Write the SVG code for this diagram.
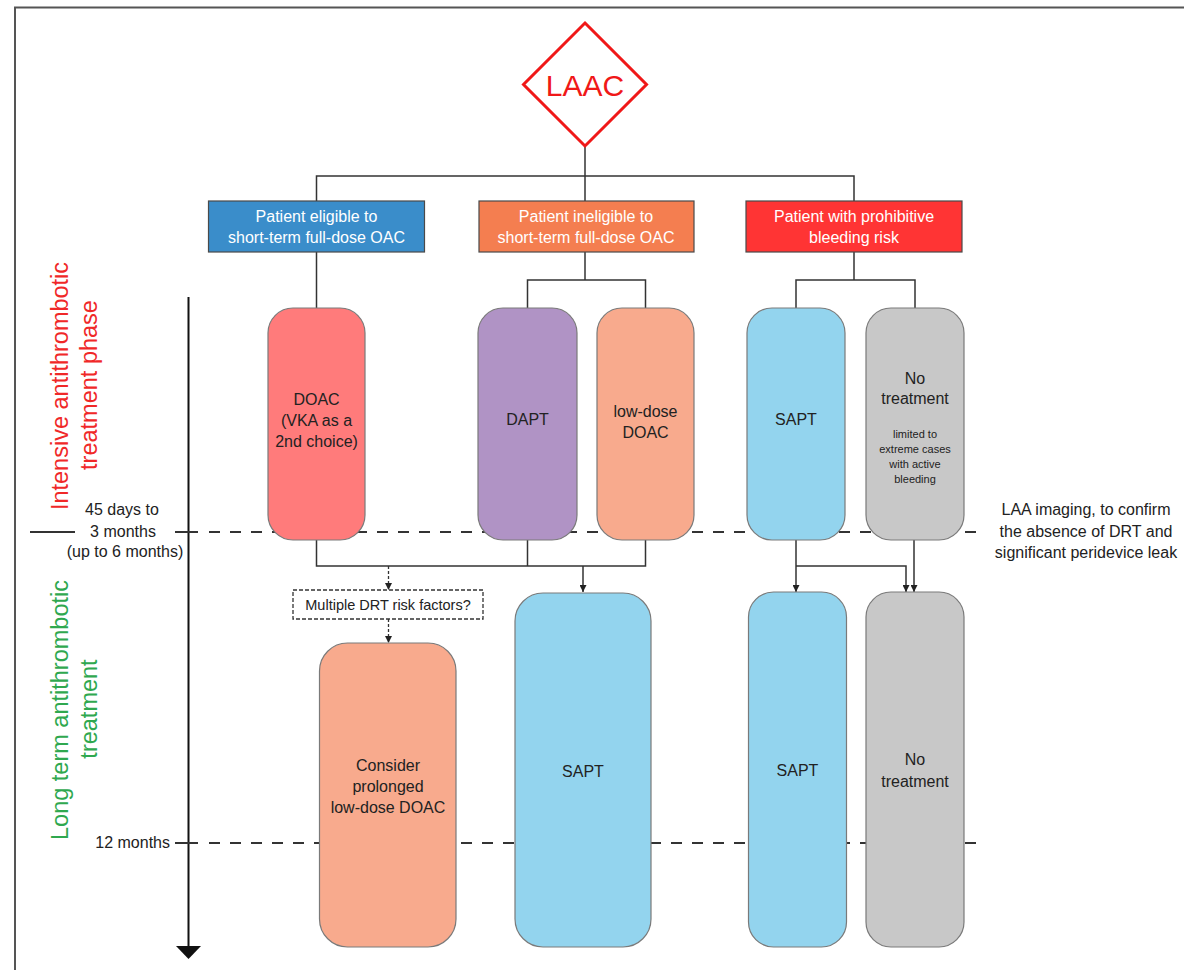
<svg xmlns="http://www.w3.org/2000/svg" width="1184" height="970" viewBox="0 0 1184 970">
<defs>
<style>
.t{font-family:"Liberation Sans",Arial,sans-serif;fill:#222;text-anchor:middle}
.w{font-family:"Liberation Sans",Arial,sans-serif;fill:#fff;text-anchor:middle;font-size:16px}
.p{font-size:16px}
.s{font-size:11px}
.ln{stroke:#333;stroke-width:1.5;fill:none}
.dot{stroke:#333;stroke-width:1.3;fill:none;stroke-dasharray:3 2}
.pill{stroke:#7a7a7a;stroke-width:1.2}
.box{stroke:#4a4a4a;stroke-width:1.2}
.dash{stroke:#333;stroke-width:2;stroke-dasharray:11 10;fill:none}
.solid{stroke:#333;stroke-width:2;fill:none}
.side{font-family:"Liberation Sans",Arial,sans-serif;font-size:23.5px;text-anchor:middle}
</style>
<marker id="arr" viewBox="0 0 10 10" refX="10" refY="5" markerWidth="7" markerHeight="7" markerUnits="userSpaceOnUse" orient="auto">
<path d="M0,0 L10,5 L0,10 z" fill="#222"/>
</marker>
</defs>
<rect width="1184" height="970" fill="#fff"/>
<path d="M15,970 L15,7.5 L1184,7.5" fill="none" stroke="#555" stroke-width="2"/>

<g id="timeline">
<line x1="188.5" y1="297" x2="188.5" y2="948" stroke="#111" stroke-width="2"/>
<path d="M176,946 L201,946 L188.5,959 z" fill="#111"/>
<line class="solid" x1="30" y1="532" x2="75" y2="532"/>
<line class="solid" x1="175" y1="532" x2="198" y2="532"/>
<line class="dash" x1="209" y1="532" x2="982" y2="532"/>
<line class="solid" x1="175" y1="843" x2="198" y2="843"/>
<line class="dash" x1="209" y1="843" x2="982" y2="843"/>
<text class="t p" x="122" y="515">45 days to</text>
<text class="t p" x="123" y="537">3 months</text>
<text class="t p" x="125" y="557">(up to 6 months)</text>
<text class="t p" x="170" y="848" style="text-anchor:end">12 months</text>
<text class="side" fill="#f02828" transform="translate(68,386) rotate(-90)">Intensive antithrombotic</text>
<text class="side" fill="#f02828" transform="translate(97,385) rotate(-90)">treatment phase</text>
<text class="side" fill="#2fa84f" transform="translate(68,710) rotate(-90)">Long term antithrombotic</text>
<text class="side" fill="#2fa84f" transform="translate(97,709) rotate(-90)">treatment</text>
<text class="t p" x="1086" y="515">LAA imaging, to confirm</text>
<text class="t p" x="1086" y="537">the absence of DRT and</text>
<text class="t p" x="1086" y="558">significant peridevice leak</text>
</g>

<g id="connectors">
<line class="ln" x1="585" y1="146" x2="585" y2="201"/>
<path class="ln" d="M316.5,201 V176 H854 V201"/>
<line class="ln" x1="316.5" y1="252" x2="316.5" y2="308"/>
<line class="ln" x1="585" y1="252" x2="585" y2="280"/>
<path class="ln" d="M527.5,308 V280 H645.5 V308"/>
<line class="ln" x1="854" y1="252" x2="854" y2="280"/>
<path class="ln" d="M796,308 V280 H915 V308"/>
<path class="ln" d="M316.5,540 V566 H645.5 V540"/>
<line class="ln" x1="527.5" y1="540" x2="527.5" y2="566"/>
<line class="ln" x1="583" y1="566" x2="583" y2="592" marker-end="url(#arr)"/>
<line class="dot" x1="388.5" y1="566" x2="388.5" y2="590" marker-end="url(#arr)"/>
<line class="dot" x1="388.5" y1="619" x2="388.5" y2="643" marker-end="url(#arr)"/>
<line class="ln" x1="796" y1="540" x2="796" y2="592" marker-end="url(#arr)"/>
<path class="ln" d="M796,566 H906 V592" marker-end="url(#arr)"/>
<line class="ln" x1="914" y1="540" x2="914" y2="592" marker-end="url(#arr)"/>
</g>

<g id="laac">
<path d="M585,23 L646.5,84.5 L585,146 L523.5,84.5 z" fill="#fff" stroke="#f01818" stroke-width="3"/>
<text x="585" y="96" style="font-family:'Liberation Sans',Arial,sans-serif;font-size:30px;fill:#f01818;text-anchor:middle">LAAC</text>
</g>

<g id="eligible">
<rect class="box" x="208.5" y="201" width="216" height="51" fill="#3a8dca"/>
<text class="w" x="316.5" y="222">Patient eligible to</text>
<text class="w" x="316.5" y="243">short-term full-dose OAC</text>
</g>
<g id="ineligible">
<rect class="box" x="479" y="201" width="215" height="51" fill="#f47e50"/>
<text class="w" x="586" y="222">Patient ineligible to</text>
<text class="w" x="586" y="243">short-term full-dose OAC</text>
</g>
<g id="prohibitive">
<rect class="box" x="746" y="201" width="216" height="51" fill="#ff3434"/>
<text class="w" x="854" y="222">Patient with prohibitive</text>
<text class="w" x="854" y="243">bleeding risk</text>
</g>

<g id="doac">
<rect class="pill" x="268" y="308" width="97" height="232" rx="25" fill="#ff7b7b"/>
<text class="t p" x="316.5" y="405">DOAC</text>
<text class="t p" x="316.5" y="426">(VKA as a</text>
<text class="t p" x="316.5" y="447">2nd choice)</text>
</g>
<g id="dapt">
<rect class="pill" x="478" y="308" width="99" height="232" rx="25" fill="#b093c5"/>
<text class="t p" x="527.5" y="425">DAPT</text>
</g>
<g id="lowdose">
<rect class="pill" x="597" y="308" width="97" height="232" rx="25" fill="#f8aa8d"/>
<text class="t p" x="645.5" y="417">low-dose</text>
<text class="t p" x="645.5" y="438">DOAC</text>
</g>
<g id="sapt1">
<rect class="pill" x="747" y="308" width="98" height="232" rx="25" fill="#93d4ee"/>
<text class="t p" x="796" y="425">SAPT</text>
</g>
<g id="notx1">
<rect class="pill" x="866" y="308" width="98" height="232" rx="25" fill="#c8c8c8"/>
<text class="t p" x="915" y="384">No</text>
<text class="t p" x="915" y="404">treatment</text>
<text class="t s" x="915" y="438">limited to</text>
<text class="t s" x="915" y="453">extreme cases</text>
<text class="t s" x="915" y="468">with active</text>
<text class="t s" x="915" y="483">bleeding</text>
</g>

<g id="drt">
<rect x="293" y="590" width="190" height="29" fill="#fff" stroke="#333" stroke-width="1.3" stroke-dasharray="4 2"/>
<text class="t" x="388" y="610" style="font-size:14.5px">Multiple DRT risk factors?</text>
</g>

<g id="prolonged">
<rect class="pill" x="319.5" y="643" width="136.5" height="304" rx="28" fill="#f8aa8d"/>
<text class="t p" x="388" y="771">Consider</text>
<text class="t p" x="388" y="792">prolonged</text>
<text class="t p" x="388" y="813">low-dose DOAC</text>
</g>
<g id="sapt2">
<rect class="pill" x="515" y="593" width="136" height="354" rx="28" fill="#93d4ee"/>
<text class="t p" x="583" y="777">SAPT</text>
</g>
<g id="sapt3">
<rect class="pill" x="748.5" y="592" width="98" height="355" rx="25" fill="#93d4ee"/>
<text class="t p" x="797.5" y="776">SAPT</text>
</g>
<g id="notx2">
<rect class="pill" x="866" y="592" width="98" height="355" rx="25" fill="#c8c8c8"/>
<text class="t p" x="915" y="765">No</text>
<text class="t p" x="915" y="787">treatment</text>
</g>
</svg>
